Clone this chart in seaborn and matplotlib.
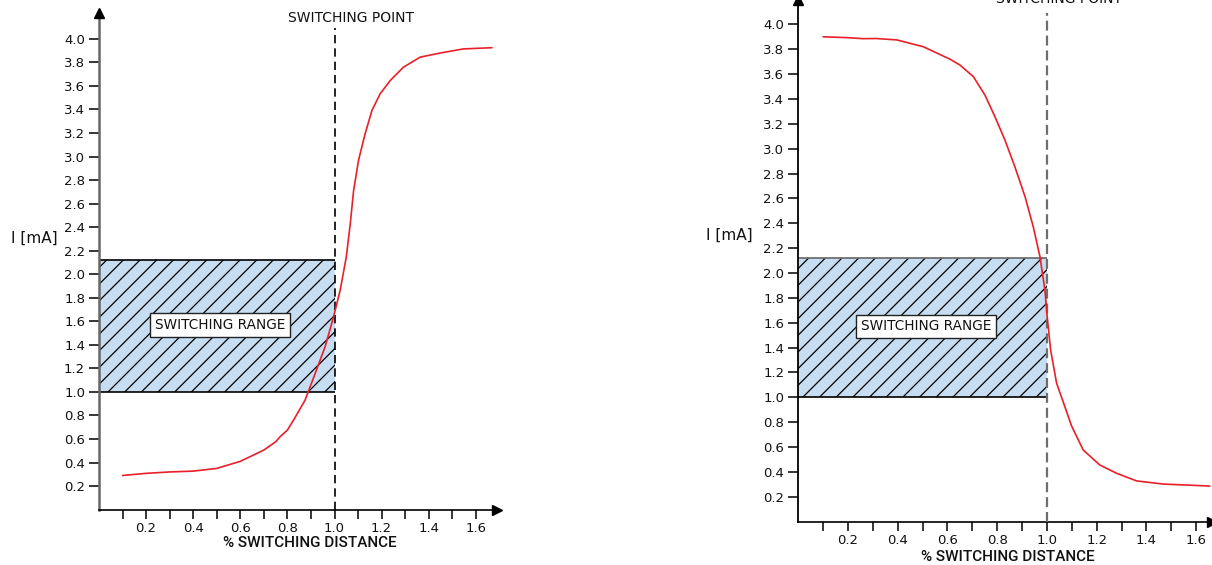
import matplotlib
matplotlib.use("Agg")
import matplotlib.pyplot as plt
import seaborn as sns

# ---------------- data ----------------
left_x = [0.10, 0.20, 0.30, 0.40, 0.50, 0.60, 0.70, 0.75, 0.769, 0.80, 0.826, 0.875,
          0.918, 0.96, 0.996, 1.024, 1.05, 1.067, 1.081, 1.102, 1.13, 1.159, 1.194,
          1.237, 1.293, 1.364, 1.449, 1.548, 1.669]
left_y = [0.29, 0.308, 0.32, 0.327, 0.35, 0.41, 0.506, 0.576, 0.619, 0.676, 0.76, 0.93,
          1.157, 1.383, 1.638, 1.864, 2.147, 2.43, 2.71, 2.968, 3.194, 3.392, 3.534,
          3.647, 3.76, 3.845, 3.88, 3.915, 3.925]

right_x = [0.10, 0.20, 0.26, 0.315, 0.396, 0.503, 0.61, 0.65, 0.704, 0.751, 0.791,
           0.831, 0.871, 0.912, 0.945, 0.972, 0.992, 1.001, 1.015, 1.039, 1.066,
           1.099, 1.146, 1.213, 1.28, 1.361, 1.468, 1.655]
right_y = [3.90, 3.893, 3.885, 3.886, 3.875, 3.82, 3.72, 3.673, 3.58, 3.43, 3.257,
           3.07, 2.855, 2.614, 2.372, 2.131, 1.863, 1.648, 1.38, 1.113, 0.96,
           0.77, 0.576, 0.455, 0.389, 0.327, 0.302, 0.286]

x_ticks = [0.1, 0.2, 0.3, 0.4, 0.5, 0.6, 0.7, 0.8, 0.9, 1.0, 1.1, 1.2, 1.3, 1.4, 1.5, 1.6]
x_tick_labels = ["", "0.2", "", "0.4", "", "0.6", "", "0.8", "", "1.0", "", "1.2", "", "1.4", "", "1.6"]
y_ticks = [0.2, 0.4, 0.6, 0.8, 1.0, 1.2, 1.4, 1.6, 1.8, 2.0, 2.2, 2.4, 2.6, 2.8, 3.0,
           3.2, 3.4, 3.6, 3.8, 4.0]
y_tick_labels = ["0.2", "0.4", "0.6", "0.8", "1.0", "1.2", "1.4", "1.6", "1.8", "2.0",
                 "2.2", "2.4", "2.6", "2.8", "3.0", "3.2", "3.4", "3.6", "3.8", "4.0"]

range_x = [0.0, 1.0]
range_low = 1.0
range_high = 2.12
switch_point = 1.0
switch_line_top = 4.09

x_label = "% SWITCHING DISTANCE"
y_label = "I [mA]"
point_label = "SWITCHING POINT"
range_label = "SWITCHING RANGE"

# ---------------- style ----------------
sns.set_theme(style="ticks")
plt.rcParams['font.family'] = ['DejaVu Sans']
plt.rcParams['hatch.linewidth'] = 0.9
plt.rcParams['hatch.color'] = 'black'

W, H = 1212, 565
fig = plt.figure(figsize=(W / 100, H / 100), dpi=100)
fig.patch.set_facecolor('white')

ax1 = fig.add_axes([99 / W, 1 - 509.6 / H, (497 - 99) / W, (509.6 - 13) / H])
ax2 = fig.add_axes([798.3 / W, 1 - 521.6 / H, (1212 - 798.3) / W, 521.6 / H])

RED = '#E8202A'
BLUE = '#C6DDF2'
TXT = '#111111'


def setup(ax, xmax, ymax, yspine_color, yspine_lw):
    ax.set_xlim(0, xmax)
    ax.set_ylim(0, ymax)
    ax.set_facecolor('white')
    for s in ['top', 'right']:
        ax.spines[s].set_visible(False)
    ax.spines['left'].set_color(yspine_color)
    ax.spines['left'].set_linewidth(yspine_lw)
    ax.spines['bottom'].set_color('black')
    ax.spines['bottom'].set_linewidth(1.2)
    ax.set_xticks(x_ticks)
    ax.set_xticklabels(x_tick_labels)
    ax.set_yticks(y_ticks)
    ax.set_yticklabels(y_tick_labels)
    ax.tick_params(axis='x', direction='out', length=6.7, width=1.1, color='black',
                   pad=2.5, labelsize=9.5, labelcolor=TXT, bottom=True)
    ax.tick_params(axis='y', direction='out', length=7.5, width=1.1, color='black',
                   pad=2.5, labelsize=9.5, labelcolor=TXT, left=True)
    ax.plot([xmax], [0], marker='>', ms=7, color='black', clip_on=False, zorder=6)
    ax.plot([0], [ymax], marker='^', ms=7, color='black', clip_on=False, zorder=6)
    ax.set_xlabel('')
    ax.set_ylabel('')


def draw_range(ax, top_color):
    ax.fill_between(range_x, range_low, range_high, facecolor=BLUE, edgecolor='black',
                    hatch='//', linewidth=0, zorder=1)
    ax.hlines(range_high, range_x[0], range_x[1], color=top_color, lw=1.2, zorder=2)
    ax.hlines(range_low, range_x[0], range_x[1], color='black', lw=1.2, zorder=2)
    ax.text(0.515, 1.57, range_label, ha='center', va='center', fontsize=9.8,
            color=TXT, zorder=5,
            bbox=dict(boxstyle='square,pad=0.35', fc='white', ec='#222222', lw=1.0))


# ---------------- left chart ----------------
setup(ax1, 1.69, 4.22, '#666666', 1.8)
draw_range(ax1, 'black')
ax1.plot([switch_point, switch_point], [0, switch_line_top], color='black', lw=1.2,
         linestyle=(0, (5, 3)), zorder=3)
sns.lineplot(x=left_x, y=left_y, ax=ax1, color=RED, linewidth=1.2, zorder=4)
ax1.text(1.07, 4.18, point_label, ha='center', va='center', fontsize=10,
         color=TXT, clip_on=False)

# ---------------- right chart ----------------
setup(ax2, 1.664, 4.196, 'black', 1.3)
draw_range(ax2, '#666666')
ax2.plot([switch_point, switch_point], [0, switch_line_top], color='#6E6E6E', lw=1.6,
         linestyle=(0, (4.5, 2.2)), zorder=3)
sns.lineplot(x=right_x, y=right_y, ax=ax2, color=RED, linewidth=1.2, zorder=4)
ax2.text(1.048, 4.205, point_label, ha='center', va='center', fontsize=10,
         color=TXT, clip_on=False)

# ---------------- axis titles ----------------
fig.text(34 / W, 1 - 238 / H, y_label, ha='center', va='center', fontsize=11, color=TXT)
fig.text(729 / W, 1 - 235 / H, y_label, ha='center', va='center', fontsize=11, color=TXT)
fig.text(310 / W, 1 - 543 / H, x_label, ha='center', va='center', fontsize=11,
         fontweight='medium', color=TXT, family=['Roboto', 'DejaVu Sans'])
fig.text(1008 / W, 1 - 556.7 / H, x_label, ha='center', va='center', fontsize=11,
         fontweight='medium', color=TXT, family=['Roboto', 'DejaVu Sans'])

fig.savefig('out.png', dpi=100, facecolor='white')
